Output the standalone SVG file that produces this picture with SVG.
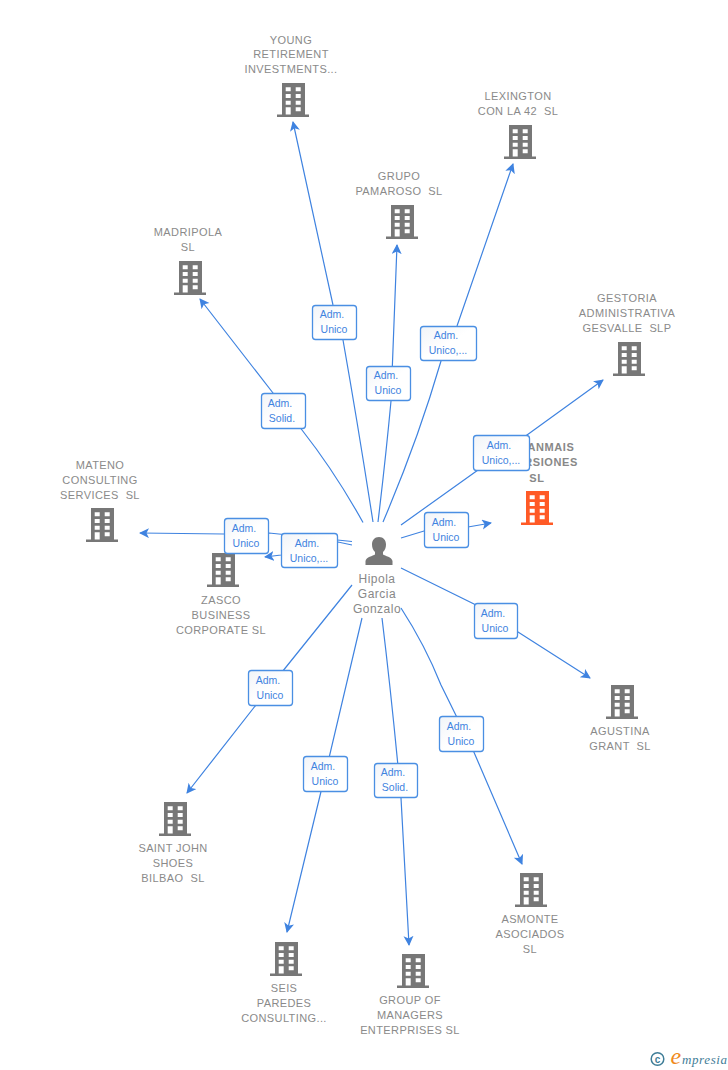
<svg xmlns="http://www.w3.org/2000/svg" width="728" height="1070" viewBox="0 0 728 1070">
<style>
text{white-space:pre}
.t{font:11px "Liberation Sans",Arial,sans-serif;fill:#8a8a8a;text-anchor:middle;letter-spacing:.4px}
.tb{font:bold 11px "Liberation Sans",Arial,sans-serif;fill:#888;text-anchor:middle;letter-spacing:.6px}
.p{font:12px "Liberation Sans",Arial,sans-serif;fill:#888;text-anchor:middle;letter-spacing:.5px}
.c{fill:none;stroke:#3f83e0;stroke-width:1.2;marker-end:url(#a)}
.n{fill:#777}
.o{fill:#ff5a26}
.l rect{fill:url(#g);stroke:#4a8fe3;stroke-width:1.3}
.l text{font:10.5px "Liberation Sans",Arial,sans-serif;fill:#3f83e0;text-anchor:middle}
</style>
<defs>
<marker id="a" markerUnits="userSpaceOnUse" markerWidth="12" markerHeight="12" refX="9" refY="5" orient="auto"><path d="M0 0L10 5L0 10L2.5 5Z" fill="#3f83e0"/></marker>
<linearGradient id="g" x1="0" y1="0" x2="1" y2="1"><stop offset="0" stop-color="#f1f4f8"/><stop offset=".5" stop-color="#fff"/></linearGradient>
<symbol id="b" width="32" height="34" viewBox="0 0 32 34">
<path fill-rule="evenodd" d="M5 0H28V31.5H32V34H0V31.5H5ZM8.7 4.3V8.3H13.7V4.3ZM18.7 4.3V8.3H23.7V4.3ZM8.7 11V15H13.7V11ZM18.7 11V15H23.7V11ZM8.7 17.7V21.7H13.7V17.7ZM18.7 17.7V21.7H23.7V17.7ZM8.7 24.3V31.5H13.7V24.3ZM18.7 24.3V28.3H23.7V24.3Z"/>
</symbol>
</defs>
<g id="connectors">
<path class="c" d="M373 522Q358 425 343 340L333 305L293 122"/>
<path class="c" d="M363 522.500Q335 472 302 430L273 393L200 299"/>
<path class="c" d="M378 522Q386 455 391 401L397 245"/>
<path class="c" d="M383 522Q418 440 441 361L457 326L513 164"/>
<path class="c" d="M401 525L478 470L527 435L603 380"/>
<path class="c" d="M401 538L424 531L468 527L491 523"/>
<path class="c" d="M401 568L474 604L518 632L590 678"/>
<path class="c" d="M401 608Q425 645 441 685L473 750L522 864"/>
<path class="c" d="M382 618Q392 700 401 798L409 945"/>
<path class="c" d="M362 618L325 775L287 932"/>
<path class="c" d="M352 585L270 687L187 793"/>
<path class="c" d="M352 541.500L269 533L224 534L140 533"/>
<path class="c" d="M352 545L338 542L281 555L265 557"/>
</g>
<g id="n-young"><use href="#b" x="277" y="83" class="n"/><text class="t"><tspan x="291" y="44">YOUNG</tspan><tspan x="291" y="58">RETIREMENT</tspan><tspan x="291" y="73">INVESTMENTS...</tspan></text></g>
<g id="n-lexington"><use href="#b" x="504" y="125" class="n"/><text class="t"><tspan x="518" y="100">LEXINGTON</tspan><tspan x="518" y="115">CON LA 42  SL</tspan></text></g>
<g id="n-grupo"><use href="#b" x="386" y="205" class="n"/><text class="t"><tspan x="399" y="180">GRUPO</tspan><tspan x="399" y="195">PAMAROSO  SL</tspan></text></g>
<g id="n-madripola"><use href="#b" x="174" y="261" class="n"/><text class="t"><tspan x="188" y="236">MADRIPOLA</tspan><tspan x="188" y="251">SL</tspan></text></g>
<g id="n-gestoria"><use href="#b" x="613" y="342" class="n"/><text class="t"><tspan x="627" y="302">GESTORIA</tspan><tspan x="627" y="317">ADMINISTRATIVA</tspan><tspan x="627" y="332">GESVALLE  SLP</tspan></text></g>
<g id="n-tranmais"><use href="#b" x="521" y="491" class="o"/><text class="tb"><tspan x="543" y="451">TRANMAIS</tspan><tspan x="537" y="466">INVERSIONES</tspan><tspan x="537" y="482">SL</tspan></text></g>
<g id="n-mateno"><use href="#b" x="86" y="508" class="n"/><text class="t"><tspan x="100" y="469">MATENO</tspan><tspan x="100" y="484">CONSULTING</tspan><tspan x="100" y="499">SERVICES  SL</tspan></text></g>
<g id="n-zasco"><use href="#b" x="207" y="553" class="n"/><text class="t"><tspan x="221" y="604">ZASCO</tspan><tspan x="221" y="619">BUSINESS</tspan><tspan x="221" y="634">CORPORATE SL</tspan></text></g>
<g id="n-agustina"><use href="#b" x="606" y="685" class="n"/><text class="t"><tspan x="620" y="735">AGUSTINA</tspan><tspan x="620" y="750">GRANT  SL</tspan></text></g>
<g id="n-saintjohn"><use href="#b" x="159" y="802" class="n"/><text class="t"><tspan x="173" y="852">SAINT JOHN</tspan><tspan x="173" y="867">SHOES</tspan><tspan x="173" y="882">BILBAO  SL</tspan></text></g>
<g id="n-asmonte"><use href="#b" x="515" y="873" class="n"/><text class="t"><tspan x="530" y="923">ASMONTE</tspan><tspan x="530" y="938">ASOCIADOS</tspan><tspan x="530" y="953">SL</tspan></text></g>
<g id="n-seis"><use href="#b" x="270" y="942" class="n"/><text class="t"><tspan x="284" y="992">SEIS</tspan><tspan x="284" y="1007">PAREDES</tspan><tspan x="284" y="1022">CONSULTING...</tspan></text></g>
<g id="n-group"><use href="#b" x="397" y="954" class="n"/><text class="t"><tspan x="410" y="1004">GROUP OF</tspan><tspan x="410" y="1019">MANAGERS</tspan><tspan x="410" y="1034">ENTERPRISES SL</tspan></text></g>
<g id="n-hipola">
<path class="n" d="M379 538c4.500 0 7 3.200 7 7.500c0 3-1 5.500-3 7.500v2.500c2 1.500 9 2.500 9.500 6.500v4h-27v-4c.5-4 7.500-5 9.500-6.500V553c-2-2-3-4.500-3-7.500c0-4.300 2.500-7.500 7-7.500Z" transform="translate(0 -1)"/>
<text class="p"><tspan x="377" y="583">Hipola</tspan><tspan x="377" y="598">Garcia</tspan><tspan x="377" y="613">Gonzalo</tspan></text>
</g>
<g id="labels">
<g class="l"><rect x="312.500" y="305.500" width="44" height="34" rx="3"/><text><tspan x="332" y="318">Adm.</tspan><tspan x="334" y="333">Unico</tspan></text></g>
<g class="l"><rect x="261.500" y="393.500" width="44" height="35" rx="3"/><text><tspan x="280" y="407">Adm.</tspan><tspan x="282" y="422">Solid.</tspan></text></g>
<g class="l"><rect x="366.500" y="366.500" width="44" height="34" rx="3"/><text><tspan x="386" y="379">Adm.</tspan><tspan x="388" y="394">Unico</tspan></text></g>
<g class="l"><rect x="420.500" y="326.500" width="56" height="34" rx="3"/><text><tspan x="446" y="339">Adm.</tspan><tspan x="448" y="354">Unico,...</tspan></text></g>
<g class="l"><rect x="473.500" y="435.500" width="56" height="35" rx="3"/><text><tspan x="499" y="449">Adm.</tspan><tspan x="501" y="464">Unico,...</tspan></text></g>
<g class="l"><rect x="424.500" y="512.500" width="44" height="35" rx="3"/><text><tspan x="444" y="526">Adm.</tspan><tspan x="446" y="541">Unico</tspan></text></g>
<g class="l"><rect x="224.500" y="518.500" width="44" height="35" rx="3"/><text><tspan x="244" y="532">Adm.</tspan><tspan x="246" y="547">Unico</tspan></text></g>
<g class="l"><rect x="281.500" y="533.500" width="56" height="34" rx="3"/><text><tspan x="307" y="547">Adm.</tspan><tspan x="309" y="562">Unico,...</tspan></text></g>
<g class="l"><rect x="474.500" y="603.500" width="43" height="35" rx="3"/><text><tspan x="493" y="617">Adm.</tspan><tspan x="495" y="632">Unico</tspan></text></g>
<g class="l"><rect x="248.500" y="670.500" width="44" height="35" rx="3"/><text><tspan x="268" y="684">Adm.</tspan><tspan x="270" y="699">Unico</tspan></text></g>
<g class="l"><rect x="439.500" y="716.500" width="44" height="35" rx="3"/><text><tspan x="459" y="730">Adm.</tspan><tspan x="461" y="745">Unico</tspan></text></g>
<g class="l"><rect x="303.500" y="756.500" width="44" height="35" rx="3"/><text><tspan x="323" y="770">Adm.</tspan><tspan x="325" y="785">Unico</tspan></text></g>
<g class="l"><rect x="374.500" y="763.500" width="43" height="34" rx="3"/><text><tspan x="393" y="776">Adm.</tspan><tspan x="395" y="791">Solid.</tspan></text></g>
</g>
<g id="logo">
<circle cx="657.500" cy="1059" r="6.300" fill="none" stroke="#3f7d97" stroke-width="1.500"/>
<text x="657.500" y="1062.500" style="font:bold 10px 'Liberation Sans',sans-serif;fill:#3f7d97;text-anchor:middle">c</text>
<text x="670.500" y="1064" style="font:italic 24px 'Liberation Serif',serif;fill:#f08a1c">e</text>
<text x="682" y="1064" style="font:italic 13px 'Liberation Serif',serif;fill:#3f7d97;letter-spacing:.6px">mpresia</text>
</g>
</svg>
